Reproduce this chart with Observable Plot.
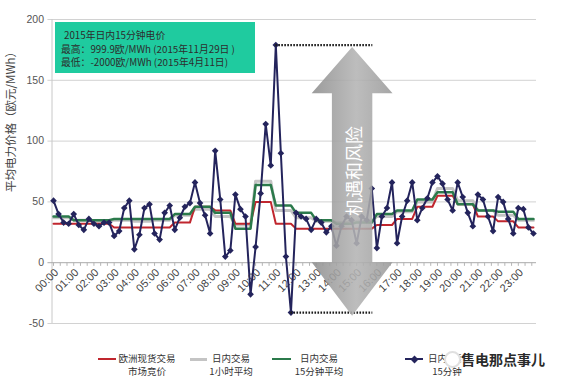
<!DOCTYPE html>
<html><head><meta charset="utf-8">
<script src="https://cdn.jsdelivr.net/npm/d3@7"></script>
<script src="https://cdn.jsdelivr.net/npm/@observablehq/plot@0.6"></script>
<style>
body{margin:0;background:#fff;}
#wrap{position:relative;width:564px;height:382px;overflow:hidden;font-family:"Noto Sans CJK SC","Noto Sans",sans-serif;}
#chart{position:absolute;left:0;top:0;}
#legend{position:absolute;left:0;top:340px;width:564px;height:42px;color:#333;font-size:9.5px;}
.sw{position:absolute;height:0;}
.lab{position:absolute;text-align:center;white-space:nowrap;line-height:13px;transform:translateX(-50%);}
.wm{position:absolute;white-space:nowrap;font-size:14px;color:#2a2a2a;font-weight:bold;background:rgba(255,255,255,0.85);
  text-shadow:0 0 2px #fff,0 0 2px #fff,0 0 3px #fff;}
</style></head><body>
<div id="wrap"><div id="chart"></div><div id="legend"></div></div>
<script>
// ---- data ----
const hourLabels = ["00:00","01:00","02:00","03:00","04:00","05:00","06:00","07:00","08:00","09:00","10:00","11:00",
  "12:00","13:00","14:00","15:00","16:00","17:00","18:00","19:00","20:00","21:00","22:00","23:00"];
// 日内交易 15分钟 (96 quarter hours)
const intraday15 = [
  51,40,33,32, 40,31,27,36, 32,30,33,33, 22,26,45,51,
  11,23,45,48, 24,19,41,47, 27,37,46,49, 66,49,39,24,
  92,52,5,10, 56,44,38,-26, 13,57,114,80, 179,90,5,-41,
  41,38,36,27, 36,33,25,30, 14,30,38,35, 16,38,35,61,
  12,38,45,66, 16,38,51,66, 35,45,53,66, 71,65,52,43,
  66,54,41,30, 56,52,38,26, 54,50,36,24, 45,44,29,24];
// 欧洲现货交易市场竞价 (hourly)
const spotHourly = [32,32,32,29,29,29,33,46,43,32,50,32,28,28,28,28,31,36,46,55,48,38,34,29];
// 日内交易 1小时平均 (hourly)
const intraday1hHourly = [37,35,34,35,34,35,39,44,38,31,67,43,37,34,33,34,38,42,50,61,51,43,39,35];
// 日内交易 15分钟平均 (blocks read per hour)
const intraday15avg = [38,35,35,36,36,36,40,46,41,28,64,47,41,35,32,33,40,43,52,58,48,43,42,36];
const yTicks = [-50,0,50,100,150,200];
const gridValues = [-50,50,100,150,200];
const seriesNames = [["欧洲现货交易","市场竞价"],["日内交易","1小时平均"],["日内交易","15分钟平均"],["日内交易","15分钟"]];
const seriesColors = ["#c0262e","#c4c4c4","#2b7a4b","#24245c"];
const boxLines = ["2015年日内15分钟电价","最高：999.9欧/MWh (2015年11月29日 )","最低：-2000欧/MWh (2015年4月11日)"];
const arrowLabel = "机遇和风险";
const yTitle = "平均电力价格（欧元/MWh）";
const watermark = "售电那点事儿";

// ---- build table ----
const rows = d3.range(96).map(i => ({
  i, navy: intraday15[i], red: spotHourly[Math.floor(i/4)],
  gray: intraday1hHourly[Math.floor(i/4)], green: intraday15avg[Math.floor(i/4)]
}));
const iMax = d3.maxIndex(intraday15), iMin = d3.minIndex(intraday15);
const arrowX = 59.2, arrowRight = 63.2;
const tickPos = d3.range(0, 96, 4/3);

const plot = Plot.plot({
  width: 564, height: 340,
  marginLeft: 51.5, marginRight: 28, marginTop: 19, marginBottom: 17,
  x: {domain: [-0.3, 95.6], axis: null},
  y: {domain: [-50, 200], ticks: yTicks, tickSize: 0, tickPadding: 8, label: null, tickFormat: d => String(d)},
  style: {fontFamily: "'Liberation Sans', Arial, sans-serif", fontSize: "10.5px", color: "#555", background: "transparent"},
  marks: [
    Plot.ruleY(gridValues, {x1: -1.1, x2: 95.6, stroke: "#d2d2d2", strokeWidth: 1}),
    Plot.ruleX([-0.3], {y1: -50, y2: 200, stroke: "#c8c8c8"}),
    Plot.ruleY([0], {x1: -1.1, x2: 95.6, stroke: "#aaaaaa"}),
    Plot.ruleX(tickPos, {x: d => d, y1: 0, y2: -3, stroke: "#b5b5b5"}),
    Plot.text(hourLabels, {x: (d, i) => i * 4, y: 0, text: d => d, rotate: -45, textAnchor: "end",
      dx: 3, dy: 8, fontSize: 11, fill: "#444"}),
    Plot.line(rows, {x: "i", y: "gray", stroke: seriesColors[1], strokeWidth: 3}),
    Plot.line(rows, {x: "i", y: "red", stroke: seriesColors[0], strokeWidth: 2}),
    Plot.line(rows, {x: "i", y: "green", stroke: seriesColors[2], strokeWidth: 2.5}),
    Plot.line(rows, {x: "i", y: "navy", stroke: seriesColors[3], strokeWidth: 2}),
    Plot.dot(rows, {x: "i", y: "navy", symbol: "diamond2", r: 3, fill: seriesColors[3], stroke: "none"}),
    Plot.ruleY([intraday15[iMax]], {x1: iMax, x2: arrowRight, stroke: "#1a1a1a", strokeWidth: 2.2, strokeDasharray: "1.6,1.4"}),
    Plot.ruleY([intraday15[iMin]], {x1: iMin, x2: arrowRight, stroke: "#1a1a1a", strokeWidth: 2.2, strokeDasharray: "1.6,1.4"})
  ]
});
document.getElementById("chart").appendChild(plot);

const svg = d3.select(plot);
const sx = plot.scale("x"), sy = plot.scale("y");
const X = v => sx.apply(v), Y = v => sy.apply(v);

// double-headed arrow annotation
const defs = svg.append("defs");
const gr = defs.append("linearGradient").attr("id", "ag").attr("x1", "0").attr("x2", "1").attr("y1", "0").attr("y2", "0");
gr.append("stop").attr("offset", "0%").attr("stop-color", "#8e8e8e");
gr.append("stop").attr("offset", "55%").attr("stop-color", "#b4b4b4");
gr.append("stop").attr("offset", "100%").attr("stop-color", "#9a9a9a");
const cx = X(arrowX), hw = X(arrowX + 4) - cx, hh = X(arrowX + 8) - cx;
const yTop = Y(177), yTopBase = Y(139), yBotBase = Y(0), yBot = Y(-44);
const pts = [[cx, yTop],[cx+hh, yTopBase],[cx+hw, yTopBase],[cx+hw, yBotBase],[cx+hh, yBotBase],[cx, yBot],
  [cx-hh, yBotBase],[cx-hw, yBotBase],[cx-hw, yTopBase],[cx-hh, yTopBase]];
svg.append("polygon").attr("points", pts.map(p => p.join(",")).join(" "))
  .attr("fill", "url(#ag)").attr("opacity", 0.88);
svg.append("text").attr("transform", `translate(${cx + 1},${Y(75)}) rotate(-90)`)
  .attr("text-anchor", "middle").attr("dominant-baseline", "central")
  .attr("font-family", "'Noto Sans CJK SC', sans-serif").attr("font-size", 18).attr("fill", "#fff")
  .text(arrowLabel);

// info box
svg.append("rect").attr("x", 55).attr("y", 22).attr("width", 200).attr("height", 51).attr("fill", "#1fcb9f");
const bt = svg.append("g").attr("font-family", "'Noto Sans CJK SC', sans-serif").attr("font-size", 9.8)
  .attr("fill", "#2d2d2d").attr("text-anchor", "start");
boxLines.forEach((t, k) => {
  bt.append("text").attr("x", k === 0 ? 64 : 61).attr("y", 35 + k * 13.5).attr("dominant-baseline", "central")
    .attr("text-anchor", "start").text(t);
});

// y title
svg.append("text").attr("transform", "translate(10,119) rotate(-90)")
  .attr("text-anchor", "middle").attr("dominant-baseline", "central")
  .attr("font-family", "'Noto Sans CJK SC', sans-serif").attr("font-size", 11.5).attr("fill", "#444")
  .text(yTitle);

// legend
const legend = d3.select("#legend");
const swX = [[98,116],[190,207],[272,291],[405,423]];
const labX = [147,231,319,447];
seriesNames.forEach((nm, k) => {
  legend.append("div").attr("class", "sw")
    .style("left", swX[k][0] + "px").style("width", (swX[k][1]-swX[k][0]) + "px")
    .style("top", (19 - (k === 1 ? 1.5 : 1.25)) + "px")
    .style("border-top", `${k === 1 ? 3 : 2.5}px solid ${seriesColors[k]}`);
  legend.append("div").attr("class", "lab").style("left", labX[k] + "px").style("top", "12px")
    .html(nm[0] + "<br>" + nm[1]);
});
legend.append("div").style("position", "absolute").style("left", (414 - 3.5) + "px").style("top", (19 - 3.5) + "px")
  .style("width", "7px").style("height", "7px").style("background", seriesColors[3]).style("transform", "rotate(45deg) scale(0.8)");
legend.append("div").style("position", "absolute").style("left", "444px").style("top", "11px")
  .style("width", "13px").style("height", "13px").style("border-radius", "50%").style("border", "2px solid #e0e0e0").style("background", "#fff");
legend.append("div").attr("class", "wm").style("left", "461px").style("top", "9px").text(watermark);
</script>
</body></html>
